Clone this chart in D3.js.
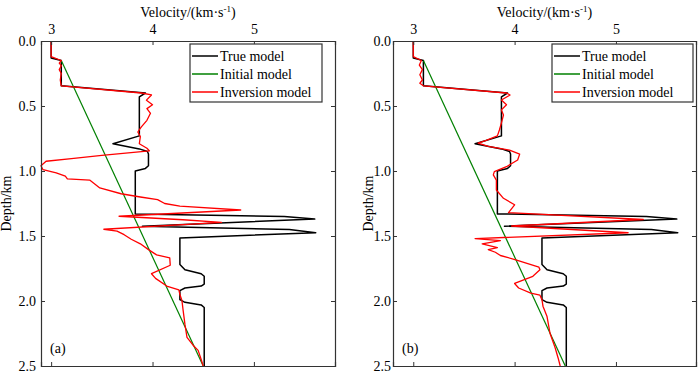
<!DOCTYPE html>
<html lang="en">
<head>
<meta charset="UTF-8">
<title>Velocity models</title>
<script src="https://cdn.jsdelivr.net/npm/d3@7"></script>
<style>
    body { margin: 0; background: #fff; }
    svg { display: block; font-family: "Liberation Serif", "Times New Roman", serif; }
</style>
</head>
<body>
<div id="graphDiv"></div>
<script>
// ---- data (velocity km/s, depth km) ----
var legendLabels = ["True model", "Initial model", "Inversion model"]
var panelLabels = ["(a)", "(b)"]
var velocityTicks = [3, 4, 5]
var depthTicks = [0, 0.5, 1.0, 1.5, 2.0, 2.5]

var trueModel = [
    [3.0, 0], [3.0, 0.13], [3.1, 0.15], [3.1, 0.345], [3.93, 0.40], [3.87, 0.43],
    [3.87, 0.73], [3.61, 0.79], [3.87, 0.83], [3.95, 0.85], [3.96, 0.87], [3.96, 0.96],
    [3.93, 0.98], [3.83, 1.0], [3.83, 1.33], [5.3, 1.35], [5.6, 1.37], [3.9, 1.425],
    [5.35, 1.45], [5.61, 1.475], [4.27, 1.515], [4.27, 1.72], [4.32, 1.76], [4.48, 1.79],
    [4.51, 1.81], [4.51, 1.87], [4.48, 1.885], [4.32, 1.9], [4.27, 1.92], [4.27, 1.99],
    [4.32, 2.01], [4.48, 2.03], [4.51, 2.05], [4.51, 2.5]
]

var initialModel = [[3.1, 0.15], [4.5, 2.5]]

var inversionA = [
    [3.0, 0], [3.0, 0.12], [3.1, 0.15], [3.08, 0.17], [3.1, 0.19], [3.08, 0.22], [3.1, 0.25],
    [3.09, 0.3], [3.1, 0.345], [3.89, 0.40], [3.99, 0.415], [3.94, 0.455], [4.0, 0.49],
    [3.945, 0.52], [3.98, 0.556], [3.945, 0.61], [3.89, 0.66], [3.855, 0.70], [3.88, 0.735],
    [3.87, 0.79], [3.945, 0.825], [3.97, 0.845], [3.5, 0.88], [3.2, 0.905], [2.95, 0.925],
    [2.9, 0.96], [2.92, 0.99], [3.05, 1.015], [3.14, 1.04], [3.16, 1.06], [3.38, 1.07],
    [3.43, 1.1], [3.48, 1.13], [3.69, 1.175], [3.88, 1.2], [4.05, 1.22], [4.12, 1.25],
    [4.27, 1.27], [4.87, 1.3], [3.67, 1.348], [4.3, 1.375], [4.68, 1.395], [3.52, 1.448],
    [3.65, 1.462], [3.72, 1.49], [3.79, 1.525], [3.88, 1.56], [3.96, 1.605], [4.04, 1.645],
    [4.17, 1.668], [4.175, 1.725], [3.99, 1.79], [4.03, 1.826], [4.14, 1.885], [4.26, 1.915],
    [4.27, 1.95], [4.29, 1.995], [4.30, 2.06], [4.32, 2.18], [4.34, 2.28], [4.40, 2.34],
    [4.45, 2.38], [4.48, 2.45], [4.50, 2.5]
]

var inversionB = [
    [3.0, 0], [3.0, 0.12], [3.08, 0.15], [3.06, 0.185], [3.09, 0.22], [3.065, 0.26],
    [3.09, 0.30], [3.065, 0.325], [3.1, 0.345], [3.92, 0.40], [3.955, 0.415], [3.87, 0.454],
    [3.92, 0.49], [3.87, 0.53], [3.89, 0.57], [3.87, 0.63], [3.85, 0.685], [3.83, 0.73],
    [3.72, 0.765], [3.64, 0.785], [3.74, 0.81], [3.95, 0.84], [4.05, 0.87], [4.03, 0.915],
    [3.92, 0.967], [3.8, 1.005], [3.79, 1.03], [3.82, 1.07], [3.82, 1.146], [3.89, 1.21],
    [4.0, 1.26], [3.94, 1.32], [5.27, 1.373], [3.97, 1.423], [5.12, 1.475], [3.61, 1.52],
    [3.86, 1.535], [3.68, 1.56], [3.83, 1.59], [3.74, 1.605], [3.81, 1.625], [3.86, 1.65],
    [4.02, 1.685], [4.24, 1.74], [4.25, 1.76], [4.18, 1.81], [4.0, 1.865], [4.04, 1.90],
    [4.16, 1.94], [4.25, 1.955], [4.27, 1.99], [4.28, 2.04], [4.32, 2.12], [4.35, 2.25],
    [4.40, 2.36], [4.43, 2.44], [4.45, 2.5]
]

var lineColors = ["#000000", "#008000", "#ff0000"]

// ---- layout ----
var width = 700
var height = 376
var plotTop = 41, plotBottom = 366

var panels = [
    { left: 41, right: 335, vmin: 2.9, vmax: 5.8, inv: inversionA, label: panelLabels[0],
      ylab: 11, pad: 5, legX: 190, legW: 132 },
    { left: 393, right: 696, vmin: 2.8, vmax: 5.79, inv: inversionB, label: panelLabels[1],
      ylab: 373, pad: 2, legX: 552, legW: 141 }
]

var svg = d3.select('#graphDiv')
    .append('svg')
    .attr('width', width)
    .attr('height', height)

var yScale = d3.scaleLinear()
    .domain([0, 2.5])
    .range([plotTop, plotBottom])

panels.forEach(function (p) {
    var xScale = d3.scaleLinear()
        .domain([p.vmin, p.vmax])
        .range([p.left, p.right])

    var g = svg.append('g')

    var line = d3.line()
        .x(d => xScale(d[0]))
        .y(d => yScale(d[1]))

    // curves
    var series = [trueModel, initialModel, p.inv]
    var widths = [1.5, 1.2, 1.3]
    series.forEach(function (s, i) {
        g.append('path')
            .datum(s)
            .attr('d', line)
            .attr('fill', 'none')
            .attr('stroke', lineColors[i])
            .attr('stroke-width', widths[i])
            .attr('stroke-linejoin', 'round')
    })

    // axes with inward ticks
    var axisColor = '#333'
    var topAxis = g.append('g')
        .attr('transform', 'translate(0,' + plotTop + ')')
        .call(d3.axisTop(xScale).tickValues(velocityTicks).tickSize(-4).tickPadding(7).tickFormat(d3.format('d')))
    var bottomAxis = g.append('g')
        .attr('transform', 'translate(0,' + plotBottom + ')')
        .call(d3.axisBottom(xScale).tickValues(velocityTicks).tickSize(-4).tickFormat(''))
    var leftAxis = g.append('g')
        .attr('transform', 'translate(' + p.left + ',0)')
        .call(d3.axisLeft(yScale).tickValues(depthTicks).tickSize(-4).tickPadding(p.pad).tickFormat(d3.format('.1f')))
    var rightAxis = g.append('g')
        .attr('transform', 'translate(' + p.right + ',0)')
        .call(d3.axisRight(yScale).tickValues(depthTicks).tickSize(-4).tickFormat(''))

    ;[topAxis, bottomAxis, leftAxis, rightAxis].forEach(function (a) {
        a.select('.domain').attr('stroke', axisColor).attr('stroke-width', 1.2)
        a.selectAll('.tick line').attr('stroke', axisColor)
        a.selectAll('.tick text')
            .attr('fill', '#000')
            .style('font-size', '14px')
            .style('font-family', '"Liberation Serif", serif')
    })

    // axis titles
    var title = g.append('text')
        .attr('x', (p.left + p.right) / 2)
        .attr('y', 17)
        .attr('text-anchor', 'middle')
        .style('font-size', '14px')
    title.append('tspan').text('Velocity/(km·s')
    title.append('tspan').attr('dy', -5).style('font-size', '9px').text('-1')
    title.append('tspan').attr('dy', 5).text(')')

    g.append('text')
        .attr('transform', 'translate(' + p.ylab + ',' + ((plotTop + plotBottom) / 2) + ') rotate(-90)')
        .attr('text-anchor', 'middle')
        .style('font-size', '14px')
        .text('Depth/km')

    // panel label
    g.append('text')
        .attr('x', p.left + 9)
        .attr('y', 353)
        .style('font-size', '14px')
        .text(p.label)

    // legend
    var leg = g.append('g').attr('transform', 'translate(' + p.legX + ',44)')
    leg.append('rect')
        .attr('width', p.legW)
        .attr('height', 58)
        .attr('fill', '#fff')
        .attr('stroke', axisColor)
        .attr('stroke-width', 1.2)
    legendLabels.forEach(function (name, i) {
        var yy = 12 + i * 18
        leg.append('line')
            .attr('x1', 2).attr('x2', 28)
            .attr('y1', yy).attr('y2', yy)
            .attr('stroke', lineColors[i])
            .attr('stroke-width', 1.5)
        leg.append('text')
            .attr('x', 30)
            .attr('y', yy + 5)
            .style('font-size', '14px')
            .text(name)
    })
})
</script>
</body>
</html>
